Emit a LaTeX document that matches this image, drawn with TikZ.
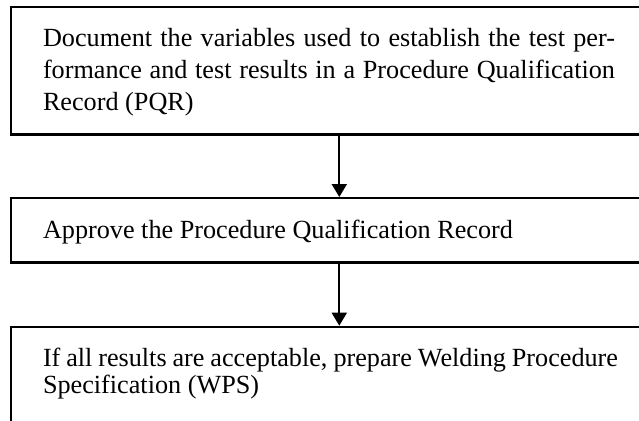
\documentclass[tikz,border=0pt]{standalone}
\usepackage{fontspec}
\setmainfont{Liberation Serif}
\usetikzlibrary{arrows.meta}
\begin{document}
\begin{tikzpicture}[x=1pt,y=-1pt,
  boxstyle/.style={draw=black,line width=2.2pt,rectangle,inner sep=0pt,outer sep=0pt,anchor=north west},
  txt/.style={inner sep=0pt,outer sep=0pt,anchor=base west,text width=575pt,align=justify},
  arr/.style={line width=2pt,-{Triangle[width=15pt,length=13pt]},shorten >=1pt}]
\clip (0,0) rectangle (639,420);
\fill[white] (0,0) rectangle (639,420);
\node[boxstyle,minimum width=640pt,minimum height=127.5pt] (b1) at (11,7) {};
\node[boxstyle,minimum width=640pt,minimum height=64.5pt] (b2) at (11,198) {};
\node[boxstyle,minimum width=640pt,minimum height=120pt] (b3) at (11,326.7) {};
\node[txt,text width=572pt,font=\fontsize{26.2}{32.3}\selectfont] (t1) at (43,46) {Document the variables used to establish the test per-\linebreak formance and test results in a Procedure Qualification\linebreak Record (PQR)};
\node[txt,font=\fontsize{26.2}{32.3}\selectfont] (t2) at (43,238) {Approve the Procedure Qualification Record};
\node[txt,font=\fontsize{26.2}{27.5}\selectfont] (t3) at (43,366.3) {If all results are acceptable, prepare Welding Procedure\newline Specification (WPS)};
\coordinate (ax) at (339.3,0);
\draw[arr] (ax |- b1.south) -- (ax |- b2.north);
\draw[arr] (ax |- b2.south) -- (ax |- b3.north);
\end{tikzpicture}
\end{document}
